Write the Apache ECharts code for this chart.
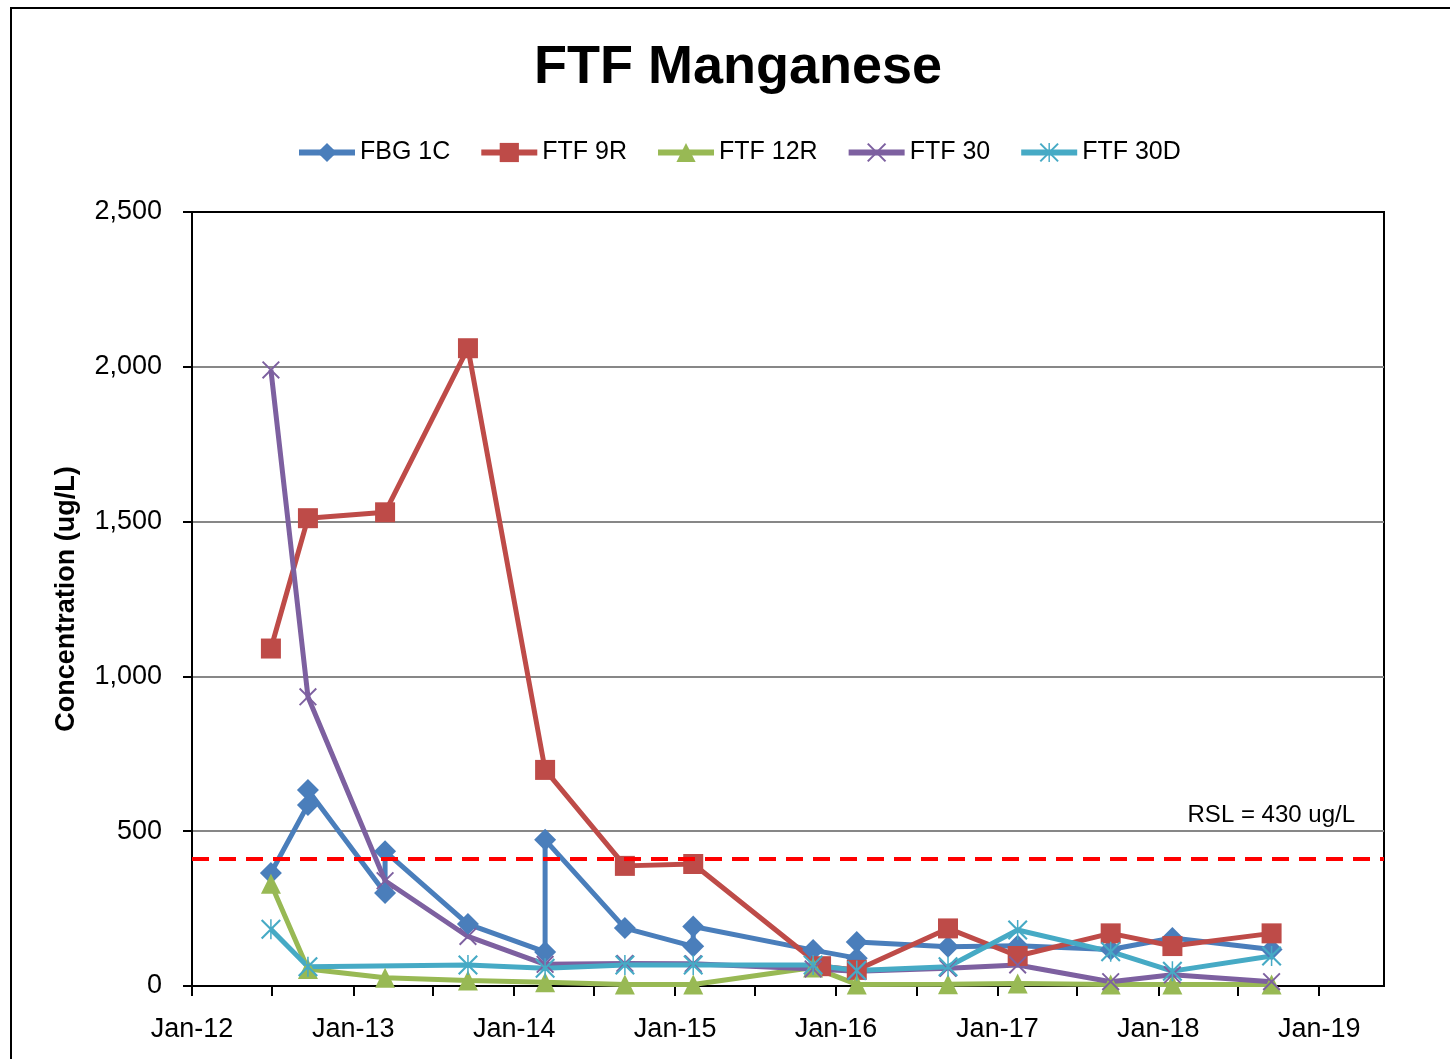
<!DOCTYPE html>
<html>
<head>
<meta charset="utf-8">
<title>FTF Manganese</title>
<script src="https://cdn.jsdelivr.net/npm/echarts@6.0.0/dist/echarts.min.js"></script>
<style>
  html, body { margin: 0; padding: 0; background: #fff; }
  #chart { width: 1450px; height: 1059px; }
</style>
</head>
<body>
<div id="chart"></div>
<script>
// sample dates (14 sampling events)
const sampleDates = ['2012-06-28', '2012-09-20', '2013-03-14', '2013-09-18', '2014-03-12', '2014-09-09', '2015-02-11',
  '2015-11-10', '2016-02-17', '2016-09-11', '2017-02-16', '2017-09-15', '2018-02-02', '2018-09-15']

// FBG 1C has duplicate samples on some dates
const fbg1cDates = ['2012-06-28', '2012-09-20', '2012-09-20', '2013-03-14', '2013-03-14', '2013-09-18', '2014-03-12',
  '2014-03-12', '2014-09-09', '2015-02-11', '2015-02-11', '2015-11-10', '2016-02-17', '2016-02-17', '2016-09-11',
  '2017-02-16', '2017-09-15', '2018-02-02', '2018-09-15']
const fbg1cValues = [365, 585, 633, 300, 435, 200, 110, 472, 187, 128, 192, 116, 90, 142, 127, 130, 118, 155, 118]

const ftf9rDates = ['2012-06-28', '2012-09-20', '2013-03-14', '2013-09-18', '2014-03-12', '2014-09-09', '2015-02-11',
  '2015-11-28', '2016-02-17', '2016-09-11', '2017-02-16', '2017-09-15', '2018-02-02', '2018-09-15']
const ftf9rValues = [1090, 1511, 1530, 2060, 698, 388, 394, 64, 52, 186, 97, 170, 129, 170]

const ftf12rDates = sampleDates
const ftf12rValues = [330, 55, 27, 18, 12, 5, 5, 60, 5, 6, 8, 5, 5, 5]

const ftf30Dates = sampleDates
const ftf30Values = [1990, 934, 340, 160, 70, 73, 72, 55, 48, 57, 68, 14, 36, 14]

const ftf30dDates = ['2012-06-28', '2012-09-20', '2013-09-18', '2014-03-12', '2014-09-09', '2015-02-11',
  '2015-11-10', '2016-02-17', '2016-09-11', '2017-02-16', '2017-09-15', '2018-02-02', '2018-09-15']
const ftf30dValues = [183, 62, 68, 57, 68, 68, 68, 50, 62, 181, 111, 48, 97]

// axis ticks
const axisStart = '2012-01-01'
const axisEnd = '2019-05-28'
const tickDates = ['2012-01-01', '2012-07-01', '2013-01-01', '2013-07-01', '2014-01-01', '2014-07-01', '2015-01-01',
  '2015-07-01', '2016-01-01', '2016-07-01', '2017-01-01', '2017-07-01', '2018-01-01', '2018-07-01', '2019-01-01']
const labelDates = ['2012-01-01', '2013-01-01', '2014-01-01', '2015-01-01', '2016-01-01', '2017-01-01',
  '2018-01-01', '2019-01-01']
const yTicks = [0, 500, 1000, 1500, 2000, 2500]

// RSL reference line (drawn position on the original)
const rslLevel = 410
const rslText = 'RSL = 430 ug/L'

const FONT = '"Liberation Sans", Arial, sans-serif'
const MONTHS = ['Jan', 'Feb', 'Mar', 'Apr', 'May', 'Jun', 'Jul', 'Aug', 'Sep', 'Oct', 'Nov', 'Dec']

function toTime(s) {
  const p = s.split('-').map(Number)
  return Date.UTC(p[0], p[1] - 1, p[2])
}
function pairs(dates, values) {
  return dates.map((d, i) => [toTime(d), values[i]])
}

// excel style marker shapes
const xPath = 'path://M0,1.5L1.5,0L20,18.5L18.5,20Z M18.5,0L20,1.5L1.5,20L0,18.5Z'
const starPath = 'path://M0,1.5L1.5,0L20,18.5L18.5,20Z M18.5,0L20,1.5L1.5,20L0,18.5Z M9.25,0L10.75,0L10.75,20L9.25,20Z'

function lineSeries(name, data, color, symbol, size) {
  return {
    name: name,
    type: 'line',
    data: data,
    symbol: symbol,
    symbolSize: size,
    showAllSymbol: true,
    lineStyle: { color: color, width: 5 },
    itemStyle: { color: color },
    emphasis: { disabled: true },
  }
}

const chart = echarts.init(document.getElementById('chart'))
const option = {
  animation: false,
  backgroundColor: '#fff',
  title: {
    text: 'FTF Manganese',
    left: 733,
    textAlign: 'center',
    top: 36,
    textStyle: { fontSize: 54, fontWeight: 'bold', color: '#000', fontFamily: FONT },
  },
  legend: {
    data: ['FBG 1C', 'FTF 9R', 'FTF 12R', 'FTF 30', 'FTF 30D'],
    left: 296,
    top: 140,
    padding: 0,
    itemWidth: 56,
    itemHeight: 24,
    itemGap: 28,
    lineStyle: { width: 6 },
    textStyle: { fontSize: 25, color: '#000', fontFamily: FONT },
  },
  grid: {
    left: 192,
    right: 66,
    top: 212,
    bottom: 73,
    show: true,
    borderColor: '#000',
    borderWidth: 2,
  },
  graphic: [{
    type: 'rect',
    shape: { x: 11, y: 8, width: 1500, height: 1100 },
    style: { fill: 'none', stroke: '#000', lineWidth: 2 },
    silent: true,
  }],
  xAxis: {
    type: 'value',
    min: toTime(axisStart),
    max: toTime(axisEnd),
    axisLine: { onZero: false, lineStyle: { color: '#000', width: 2 } },
    axisTick: {
      show: true,
      length: 10,
      lineStyle: { color: '#000', width: 2 },
      customValues: tickDates.map(toTime),
    },
    axisLabel: {
      customValues: labelDates.map(toTime),
      formatter: function (v) {
        const d = new Date(v + 12 * 3600 * 1000)
        return MONTHS[d.getUTCMonth()] + '-' + String(d.getUTCFullYear() % 100).padStart(2, '0')
      },
      fontSize: 27,
      color: '#000',
      fontFamily: FONT,
      margin: 30,
    },
    splitLine: { show: false },
  },
  yAxis: {
    type: 'value',
    min: yTicks[0],
    max: yTicks[yTicks.length - 1],
    interval: 500,
    name: 'Concentration (ug/L)',
    nameLocation: 'middle',
    nameGap: 112,
    nameTextStyle: { fontSize: 27, fontWeight: 'bold', color: '#000', fontFamily: FONT },
    axisLine: { show: true, lineStyle: { color: '#000', width: 2 } },
    axisTick: { show: true, length: 9, lineStyle: { color: '#000', width: 2 } },
    axisLabel: {
      formatter: v => v.toLocaleString('en-US'),
      fontSize: 27,
      color: '#000',
      fontFamily: FONT,
      margin: 30,
    },
    splitLine: { show: true, showMinLine: false, showMaxLine: false, lineStyle: { color: '#878787', width: 2 } },
  },
  series: [
    lineSeries('FBG 1C', pairs(fbg1cDates, fbg1cValues), '#4A7EBB', 'diamond', 22),
    lineSeries('FTF 9R', pairs(ftf9rDates, ftf9rValues), '#BE4B48', 'rect', 20),
    lineSeries('FTF 12R', pairs(ftf12rDates, ftf12rValues), '#98B954', 'triangle', 20),
    lineSeries('FTF 30', pairs(ftf30Dates, ftf30Values), '#7D60A0', xPath, 18),
    lineSeries('FTF 30D', pairs(ftf30dDates, ftf30dValues), '#46AAC5', starPath, 20),
    {
      name: 'RSL',
      type: 'line',
      data: [],
      z: 5,
      markLine: {
        silent: true,
        symbol: ['none', 'none'],
        lineStyle: { color: '#FF0000', width: 4, type: [17, 10] },
        label: {
          show: true,
          position: 'insideEndTop',
          formatter: rslText,
          color: '#000',
          fontSize: 24,
          fontFamily: FONT,
          distance: [29, 32],
        },
        data: [{ yAxis: rslLevel }],
      },
    },
  ],
}
chart.setOption(option)
</script>
</body>
</html>
